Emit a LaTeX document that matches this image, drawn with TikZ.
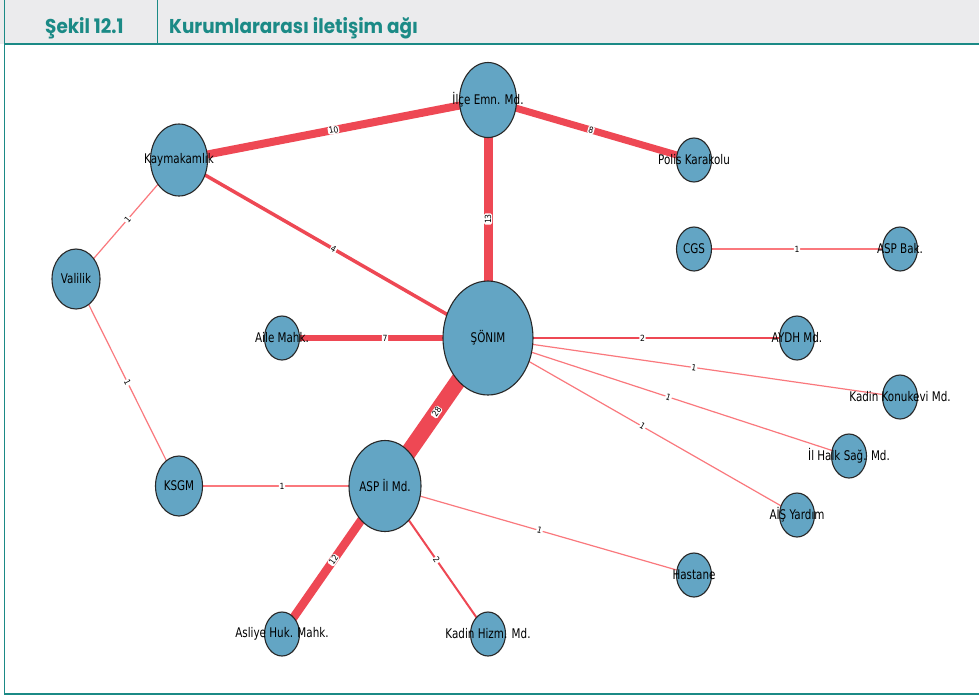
\documentclass[tikz,border=0pt]{standalone}
\usepackage{fontspec}
\setmainfont{DejaVu Sans}
\newfontfamily\nlfont{DejaVu Sans}[FakeStretch=0.78]
\newfontfamily\elfont{DejaVu Sans}[FakeStretch=0.9]
\newfontfamily\hdrfont{Poppins}[FakeStretch=0.92]
\usetikzlibrary{shapes.geometric}
\pgfdeclarelayer{bglayer}
\pgfdeclarelayer{edgelayer}
\pgfsetlayers{bglayer,edgelayer,main}
\definecolor{tealA}{RGB}{27,138,134}
\definecolor{hdrgray}{RGB}{235,235,237}
\definecolor{nodefill}{RGB}{99,165,196}
\definecolor{nodeline}{RGB}{40,40,40}
\definecolor{edgered}{RGB}{238,72,84}
\definecolor{edgelight}{RGB}{250,120,125}
\tikzset{
  nd/.style={ellipse, draw=nodeline, line width=1.1pt, fill=nodefill, inner sep=0pt},
  smallnd/.style={nd, minimum width=35pt, minimum height=44pt},
  nlbl/.style={font=\nlfont\fontsize{13.3}{14}\selectfont, inner sep=0pt, text=black},
  elbl/.style={font=\elfont\fontsize{8.5}{9}\selectfont, fill=white, rounded corners=1.5pt, inner sep=0.8pt, sloped, midway, text=black},
  heavy/.style={draw=edgered},
  light/.style={draw=edgelight, line width=1.2pt},
  hdrtext/.style={font=\hdrfont\bfseries\fontsize{20}{22}\selectfont, text=tealA, inner sep=0pt, anchor=base west},
  frameline/.style={draw=tealA, line width=1.2pt}
}
\begin{document}
\begin{tikzpicture}[x=1pt, y=-1pt]
\useasboundingbox (0,0) rectangle (979,697);
\begin{pgfonlayer}{bglayer}
\fill[white] (0,0) rectangle (979,697);
\fill[hdrgray] (0,0) rectangle (979,44);
\end{pgfonlayer}
% header
\coordinate (hl) at (4,44);
\coordinate (hr) at (979,44);
\draw[tealA, line width=2pt] (hl) -- (hr);
\coordinate (st) at (157,0);
\coordinate (sb) at (157,44);
\draw[tealA, line width=1pt] (st) -- (sb);
\coordinate (lt) at (4.5,0);
\coordinate (lb) at (4.5,694);
\coordinate (rb) at (979,694);
\draw[frameline] (lt) -- (lb) -- (rb);
\node[hdrtext] (sekil) at (45,33) {Şekil 12.1};
\node[hdrtext] (title) at (169,33) {Kurumlararası iletişim ağı};
% nodes
\node[nd, minimum width=57pt, minimum height=75pt] (ilce) at (488,100) {};
\node[smallnd] (polis) at (694,160) {};
\node[nd, minimum width=57pt, minimum height=72pt] (kay) at (179,160) {};
\node[nd, minimum width=48pt, minimum height=60pt] (val) at (76,279) {};
\node[smallnd] (aile) at (282,338) {};
\node[nd, minimum width=90pt, minimum height=114pt] (son) at (488,338) {};
\node[smallnd] (aydh) at (797,338) {};
\node[smallnd] (cgs) at (694,249) {};
\node[smallnd] (aspbak) at (900,249) {};
\node[smallnd] (konuk) at (900,397) {};
\node[smallnd] (halk) at (849,456) {};
\node[smallnd] (ais) at (797,515) {};
\node[nd, minimum width=47pt, minimum height=60pt] (ksgm) at (179,486) {};
\node[nd, minimum width=72pt, minimum height=91pt] (asp) at (385,486) {};
\node[smallnd] (hast) at (694,575) {};
\node[smallnd] (asliye) at (282,634) {};
\node[smallnd] (hizm) at (488,634) {};
% node labels
\node[nlbl] at (ilce) {İlçe Emn. Md.};
\node[nlbl] at (polis) {Polis Karakolu};
\node[nlbl] at (kay) {Kaymakamlık};
\node[nlbl] at (val) {Valilik};
\node[nlbl] at (aile) {Aile Mahk.};
\node[nlbl] at (son) {ŞÖNIM};
\node[nlbl] at (aydh) {AYDH Md.};
\node[nlbl] at (cgs) {CGS};
\node[nlbl] at (aspbak) {ASP Bak.};
\node[nlbl] at (konuk) {Kadin Konukevi Md.};
\node[nlbl] at (halk) {İl Halk Sağ. Md.};
\node[nlbl] at (ais) {AİŞ Yardım};
\node[nlbl] at (ksgm) {KSGM};
\node[nlbl] at (asp) {ASP İl Md.};
\node[nlbl] at (hast) {Hastane};
\node[nlbl] at (asliye) {Asliye Huk. Mahk.};
\node[nlbl] at (hizm) {Kadin Hizm. Md.};
% edges
\begin{pgfonlayer}{edgelayer}
\draw[heavy, line width=8pt] (kay.center) -- node[elbl]{10} (ilce.center);
\draw[heavy, line width=7pt] (ilce.center) -- node[elbl]{8} (polis.center);
\draw[heavy, line width=9pt] (son.center) -- node[elbl]{13} (ilce.center);
\draw[heavy, line width=3.5pt] (kay.center) -- node[elbl]{4} (son.center);
\draw[light] (val.center) -- node[elbl]{1} (kay.center);
\draw[light] (val.center) -- node[elbl]{1} (ksgm.center);
\draw[heavy, line width=5.5pt] (aile.center) -- node[elbl]{7} (son.center);
\draw[heavy, line width=16pt] (asp.center) -- node[elbl]{28} (son.center);
\draw[heavy, line width=2pt] (son.center) -- node[elbl]{2} (aydh.center);
\draw[light] (son.center) -- node[elbl]{1} (konuk.center);
\draw[light] (son.center) -- node[elbl]{1} (halk.center);
\draw[light] (son.center) -- node[elbl]{1} (ais.center);
\draw[light] (cgs.center) -- node[elbl]{1} (aspbak.center);
\draw[light] (ksgm.center) -- node[elbl]{1} (asp.center);
\draw[light] (asp.center) -- node[elbl]{1} (hast.center);
\draw[heavy, line width=8.5pt] (asliye.center) -- node[elbl]{12} (asp.center);
\draw[heavy, line width=2pt] (asp.center) -- node[elbl]{2} (hizm.center);
\end{pgfonlayer}
\end{tikzpicture}
\end{document}
